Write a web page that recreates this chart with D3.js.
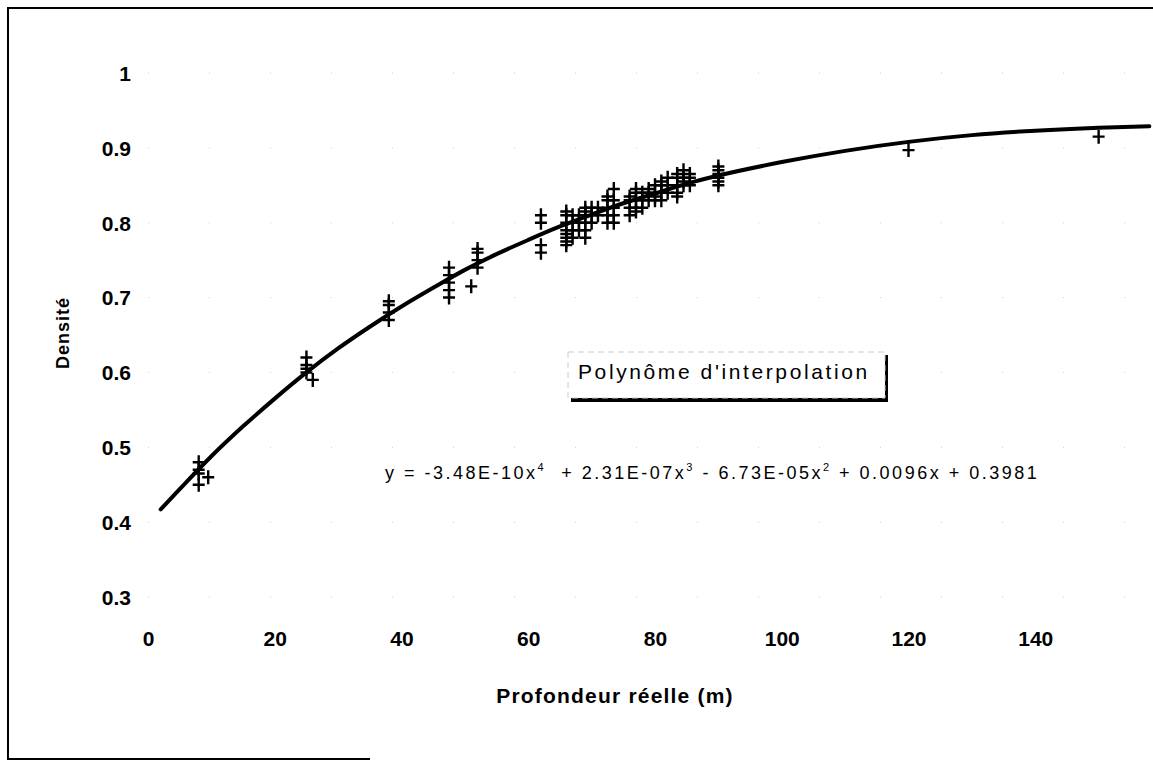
<!DOCTYPE html>
<html><head><meta charset="utf-8">
<script src="https://cdn.jsdelivr.net/npm/d3@7"></script>
<style>body{margin:0;background:#fff}svg{display:block}text{font-family:"Liberation Sans",Arial,sans-serif}</style>
</head><body><svg id="c" width="1153" height="761"></svg>
<script>
const xTicks = [0,20,40,60,80,100,120,140];
const yTicks = [0.3,0.4,0.5,0.6,0.7,0.8,0.9,1];
const yTickLabels = ["0.3","0.4","0.5","0.6","0.7","0.8","0.9","1"];
// measured points (Profondeur réelle, Densité)
const ptX = [8,8,8,8,9.5, 25,25,25,25,26, 38,38,38,38, 47.5,47.5,47.5,47.5,47.5, 51, 52,52,52,52,
 62,62,62,62, 66,66,66,66,66,66,66,66, 67,67,67,67, 68,68,68, 69,69,69,69,69,69, 70,70,70, 71,71,
 72.5,72.5,72.5,72.5,72.5, 73.5,73.5,73.5,73.5,73.5, 76,76,76,76, 77,77,77,77,77, 78,78,78, 79,79,79,
 80,80,80,80, 81,81,81,81, 82,82,82, 83.5,83.5,83.5,83.5,83.5, 84.5,84.5,84.5,84.5, 85.5,85.5,85.5,
 90,90,90,90,90,90, 120, 150];
const ptY = [0.48,0.47,0.465,0.45,0.46, 0.62,0.61,0.605,0.60,0.59, 0.695,0.69,0.68,0.67, 0.74,0.73,0.72,0.71,0.70, 0.715, 0.765,0.76,0.75,0.74,
 0.81,0.80,0.77,0.76, 0.815,0.81,0.80,0.79,0.785,0.78,0.775,0.77, 0.81,0.80,0.79,0.78, 0.81,0.80,0.79, 0.82,0.815,0.81,0.80,0.79,0.78, 0.82,0.81,0.80, 0.82,0.81,
 0.835,0.83,0.82,0.81,0.80, 0.845,0.83,0.82,0.81,0.80, 0.835,0.83,0.82,0.81, 0.845,0.84,0.83,0.82,0.815, 0.84,0.83,0.82, 0.845,0.84,0.83,
 0.85,0.84,0.835,0.83, 0.855,0.85,0.84,0.83, 0.86,0.85,0.84, 0.865,0.86,0.85,0.84,0.835, 0.87,0.86,0.855,0.85, 0.865,0.86,0.85,
 0.875,0.87,0.865,0.86,0.855,0.85, 0.897, 0.915];
// trend curve
const curveX = [2,5,10,15,20,25,30,35,40,45,50,55,60,65,70,75,80,85,90,100,110,120,130,140,150,158];
const curveY = [0.417,0.444,0.488,0.528,0.565,0.600,0.632,0.661,0.688,0.713,0.737,0.758,0.777,0.795,0.811,0.826,0.839,0.852,0.863,0.881,0.896,0.908,0.917,0.923,0.927,0.929];
const legendText = "Polynôme d'interpolation";
const xTitle = "Profondeur réelle (m)";
const yTitle = "Densité";

const svg = d3.select("#c");
const x = d3.scaleLinear().domain([0,160]).range([148,1162]);
const y = d3.scaleLinear().domain([0.3,1]).range([597,73]);

// frame (partially faded in the scan)
svg.append("path").attr("d","M1170,8H8V759H370")
  .attr("fill","none").attr("stroke","#000").attr("stroke-width",2);

// faint dotted gridlines
svg.append("g").selectAll("line").data(yTicks).join("line")
  .attr("x1",x(0)).attr("x2",1153).attr("y1",d=>y(d)).attr("y2",d=>y(d))
  .attr("stroke","#ccc").attr("stroke-width",1).attr("stroke-dasharray","1,60");

// y axis labels
const yAxis = d3.axisLeft(y).tickValues(yTicks).tickFormat((d,i)=>yTickLabels[i]).tickSize(0).tickPadding(17);
const gy = svg.append("g").attr("transform",`translate(${x(0)},0)`).call(yAxis);
gy.select(".domain").remove();
gy.selectAll("text").attr("font-size",21).attr("font-weight","bold").attr("font-family","Liberation Sans, Arial").attr("dy","0.35em");

const xAxis = d3.axisBottom(x).tickValues(xTicks).tickSize(0).tickPadding(34);
const gx = svg.append("g").attr("transform",`translate(0,${y(0.3)})`).call(xAxis);
gx.select(".domain").remove();
gx.selectAll("text").attr("font-size",21).attr("font-weight","bold").attr("font-family","Liberation Sans, Arial");

// curve
svg.append("path").datum(curveX.map((d,i)=>[d,curveY[i]]))
  .attr("d",d3.line().x(d=>x(d[0])).y(d=>y(d[1])).curve(d3.curveMonotoneX))
  .attr("fill","none").attr("stroke","#000").attr("stroke-width",4).attr("stroke-linecap","round");

// points
const crossPath = "M-6,0H6M0,-7V7";
svg.append("g").selectAll("path").data(ptX.map((d,i)=>[d,ptY[i]])).join("path")
  .attr("transform",d=>`translate(${x(d[0])},${y(d[1])})`)
  .attr("d",crossPath).attr("stroke","#000").attr("stroke-width",2.4).attr("fill","none");

// legend box
svg.append("rect").attr("x",571).attr("y",355).attr("width",317).attr("height",47)
  .attr("fill","#000");
svg.append("rect").attr("x",568).attr("y",352).attr("width",317).attr("height",46)
  .attr("fill","#fff").attr("stroke","#ccc").attr("stroke-width",1).attr("stroke-dasharray","6,4");
svg.append("text").attr("x",578).attr("y",379).attr("font-size",21).attr("letter-spacing","2.6px")
  .text(legendText);

// equation
const eq = svg.append("text").attr("x",385).attr("y",479).attr("font-size",18).attr("letter-spacing","2.5px");
const parts = [["y = -3.48E-10x",0],["4",1],["  + 2.31E-07x",0],["3",1],[" - 6.73E-05x",0],["2",1],[" + 0.0096x + 0.3981",0]];
parts.forEach(p=>{
  eq.append("tspan").attr("font-size",p[1]?11:18).attr("baseline-shift",p[1]?"70%":null)
    .style("white-space","pre").text(p[0]);
});

// titles
svg.append("text").attr("x",615).attr("y",703).attr("text-anchor","middle")
  .attr("font-size",21).attr("font-weight","bold").attr("letter-spacing","1.2px").text(xTitle);
svg.append("text").attr("transform","translate(69,333) rotate(-90)").attr("text-anchor","middle")
  .attr("font-size",18).attr("font-weight","bold").attr("letter-spacing","1px").text(yTitle);
</script></body></html>
